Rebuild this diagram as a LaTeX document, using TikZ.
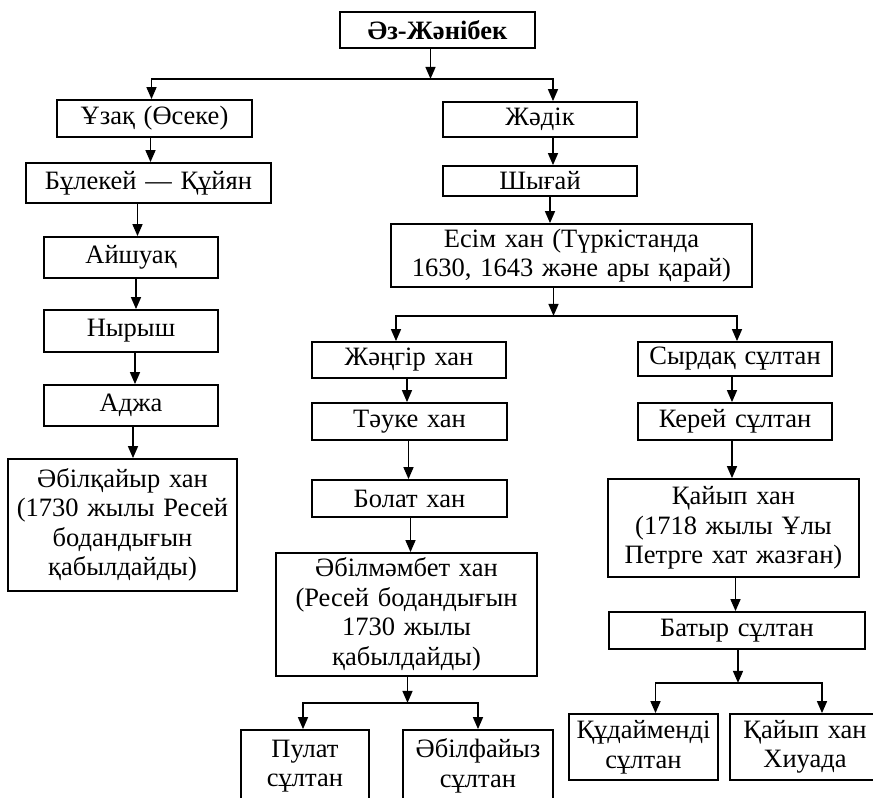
\documentclass[tikz,border=0pt]{standalone}
\usepackage{fontspec}
\setmainfont{Liberation Serif}
\usetikzlibrary{arrows.meta, positioning, calc}
\newcommand{\kzsize}{\fontsize{26.5}{29.5}\selectfont\spaceskip=0.33em plus 0.1em}
\tikzset{
  % Plain box of the family tree
  KB/.style={rectangle,draw=black,fill=white,minimum width=#1,
             minimum height=37pt,align=center,font=\kzsize,
             inner sep=1pt,line width=1.8pt},
  KB/.default=195pt,
  % Arrows — straight, filled triangle tips
  Arr/.style={-{Triangle[length=12pt,width=10pt]},line width=1.5pt},
}

\begin{document}
\begin{tikzpicture}[x=1pt,y=-1pt]
  \clip (0,0) rectangle (873,798);
  \fill[white] (0,0) rectangle (873,798);
  % root
  \node[KB,font=\kzsize\bfseries,minimum height=36pt] (top) at (437.5,30)
        {Әз-Жәнібек};
  % left line
  \node[KB] (uzak) at (154.5,118.5) {Ұзақ (Өсеке)};
  \node[KB=245pt,minimum height=40pt] (bulekei) at (148.5,183)
        {Бұлекей — Құйян};
  \node[KB=174pt,minimum height=41pt] (aishuak) at (131,257.5) {Айшуақ};
  \node[KB=174pt,minimum height=42pt] (nyrysh) at (131,331) {Нырыш};
  \node[KB=174pt,minimum height=41pt] (adzha) at (131,405.5) {Аджа};
  \node[KB=229pt,minimum height=132pt] (abilk) at (122.5,525)
        {Әбілқайыр хан\\(1730 жылы Ресей\\бодандығын\\қабылдайды)};
  % right line
  \node[KB=194pt,minimum height=35pt] (jadik) at (540,119.5) {Жәдік};
  \node[KB=194pt,minimum height=30pt] (shygai) at (540,181) {Шығай};
  \node[KB=361pt,minimum height=63pt] (esim) at (571.5,255.5)
        {Есім хан (Түркістанда\\1630, 1643 және ары қарай)};
  \node[KB=194pt,minimum height=36pt] (jangir) at (409,360) {Жәңгір хан};
  \node[KB=194pt,minimum height=34pt] (syrdak) at (735,359) {Сырдақ сұлтан};
  \node[KB] (tauke) at (409.5,421.5) {Тәуке хан};
  \node[KB] (bolat) at (409.5,498.5) {Болат хан};
  \node[KB=261pt,minimum height=123pt] (abilm) at (406.5,614.5)
        {Әбілмәмбет хан\\(Ресей бодандығын\\1730 жылы\\қабылдайды)};
  \node[KB=194pt] (kerei) at (735,421.5) {Керей сұлтан};
  \node[KB=251pt,minimum height=98pt] (qaiyp) at (733.5,528)
        {Қайып хан\\(1718 жылы Ұлы\\Петрге хат жазған)};
  \node[KB=256pt] (batyr) at (737,630.5) {Батыр сұлтан};
  % bottom row
  \node[KB=128pt,minimum height=72pt] (pulat) at (305,766) {Пулат\\сұлтан};
  \node[KB=150pt,minimum height=72pt] (abilf) at (478,766)
        {Әбілфайыз\\сұлтан};
  \node[KB=149pt,minimum height=66pt] (kudai) at (643.5,747)
        {Құдайменді\\сұлтан};
  \node[KB=150pt,minimum height=66pt] (hiua) at (805,747)
        {Қайып хан\\Хиуада};

  % single links
  \foreach \a/\b/\s in {uzak/bulekei/-4, bulekei/aishuak/-11,
      aishuak/nyrysh/5, nyrysh/adzha/4, adzha/abilk/2,
      jadik/shygai/13, shygai/esim/10, jangir/tauke/-2,
      tauke/bolat/-1, bolat/abilm/1, syrdak/kerei/-3,
      kerei/qaiyp/-3, qaiyp/batyr/2}
    \draw[Arr] ([xshift=\s pt]\a.south) -- ([xshift=\s pt]\a.south |- \b.north);

  % forks
  \draw[Arr] ([xshift=-7pt]top.south) -- ++(0,30) coordinate (jTop);
  \draw[Arr] (jTop) -| ([xshift=-3pt]uzak.north);
  \draw[Arr] (jTop) -| ([xshift=13pt]jadik.north);
  \draw[Arr] ([xshift=-18pt]esim.south) -- ++(0,28) coordinate (jEsim);
  \draw[Arr] (jEsim) -| ([xshift=-13pt]jangir.north);
  \draw[Arr] (jEsim) -| ([xshift=2pt]syrdak.north);
  \draw[Arr] ([xshift=1pt]abilm.south) -- ++(0,26) coordinate (jAbil);
  \draw[Arr] (jAbil) -| ([xshift=-2pt]pulat.north);
  \draw[Arr] (jAbil) -| (abilf.north);
  \draw[Arr] ([xshift=1pt]batyr.south) -- ++(0,33) coordinate (jBatyr);
  \draw[Arr] (jBatyr) -| ([xshift=12pt]kudai.north);
  \draw[Arr] (jBatyr) -| ([xshift=17pt]hiua.north);
\end{tikzpicture}
\end{document}
